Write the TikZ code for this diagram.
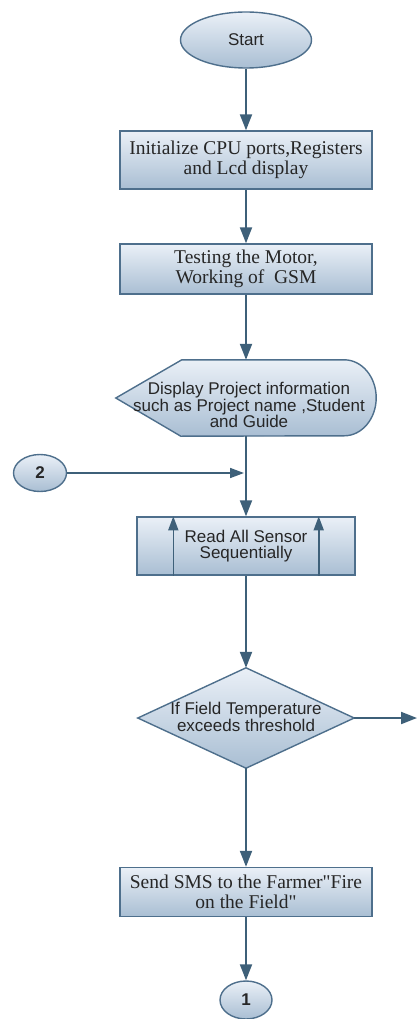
\documentclass[tikz,border=0pt]{standalone}
\usepackage{fontspec}
\setmainfont{Liberation Serif}[Ligatures=TeXOff]
\setsansfont{Liberation Sans}
\usetikzlibrary{shapes,arrows.meta,calc}

\definecolor{edge}{HTML}{4E6F8C}
\definecolor{flow}{HTML}{3E6079}
\definecolor{boxtop}{HTML}{EAF0F7}
\definecolor{boxbot}{HTML}{A9BED3}

\begin{document}
\begin{tikzpicture}[x=1pt,y=-1pt]
      \tikzstyle{point} = [coordinate]
      \tikzstyle{fillbox} = [top color=boxtop, bottom color=boxbot, draw=edge, line width=1.4pt]
      \tikzstyle{box} = [rectangle, fillbox, minimum width=252pt, align=center, text=black!85, font=\fontsize{19.5}{20}\selectfont]
      \tikzstyle{term} = [ellipse, fillbox, inner sep=0pt, text=black!85, font=\sffamily\fontsize{17}{16}\selectfont]
      \tikzstyle{frame} = [rectangle, inner sep=0pt]
      \tikzstyle{stxt} = [align=center, text=black!85, font=\sffamily\fontsize{17}{15.5}\selectfont]
      \tikzstyle{flowline} = [line width=2pt, draw=flow, -{Triangle[length=16pt,width=12pt]}]
      \tikzstyle{subline} = [line width=1.6pt, draw=flow, -{Triangle[length=14pt,width=10pt]}]
      \useasboundingbox (0,0) rectangle (417,1019);
      % main column
      \node (start) [term, minimum width=131pt, minimum height=56pt] at (246,40) {Start};
      \node (init) [box, minimum height=58pt] at (246,160) {Initialize CPU ports,Registers\\and Lcd display};
      \node (test) [box, minimum height=50pt] at (246,269) {Testing the Motor,\\Working of\ \ GSM};
      \node (disp) [frame, minimum width=260pt, minimum height=76pt] at (246,398) {};
      \path[fillbox] (disp.west) -- ($(disp.north west)+(66,0)$) -- ($(disp.north east)+(-32,0)$)
            arc[start angle=-90, end angle=90, x radius=32, y radius=38]
            -- ($(disp.south west)+(65,0)$) -- cycle;
      \node (disptxt) [stxt] at (249,405) {Display Project information\\such as Project name ,Student\\and Guide};
      \node (conn2) [term, minimum width=53pt, minimum height=37pt, font=\sffamily\bfseries\fontsize{17}{17}\selectfont] at (40,473) {2};
      \node (join) [point] at (246,473) {};
      \node (read) [rectangle, fillbox, minimum width=218pt, minimum height=58pt, stxt] at (246,546) {Read All Sensor\\Sequentially};
      \node (dec) [frame, minimum width=216pt, minimum height=100pt] at (246,718) {};
      \path[fillbox] (dec.north) -- (dec.east) -- (dec.south) -- (dec.west) -- cycle;
      \node (dectxt) [stxt] at (246,717) {If Field Temperature\\exceeds threshold};
      \node (exit) [point] at (417,718) {};
      \node (sms) [box, minimum height=49pt] at (246,892) {Send SMS to the Farmer"Fire\\on the Field"};
      \node (conn1) [term, minimum width=52pt, minimum height=38pt, font=\sffamily\bfseries\fontsize{17}{17}\selectfont] at (246,1000) {1};
      % connectors
      \draw [flowline] (start)--(init);
      \draw [flowline] (init)--(test);
      \draw [flowline] (test)--(disp.north);
      \draw [line width=2pt, draw=flow] (disp.south)--(join);
      \draw [flowline] (join)--(read);
      \draw [subline, shorten >=2pt] (conn2)--(join);
      \draw [subline] ($(read.south west)+(37,0)$)--($(read.north west)+(37,0)$);
      \draw [subline] ($(read.south east)+(-37,0)$)--($(read.north east)+(-37,0)$);
      \draw [flowline] (read)--(dec.north);
      \draw [flowline] (dec.east)--(exit);
      \draw [flowline] (dec.south)--(sms);
      \draw [flowline] (sms)--(conn1);
\end{tikzpicture}
\end{document}
